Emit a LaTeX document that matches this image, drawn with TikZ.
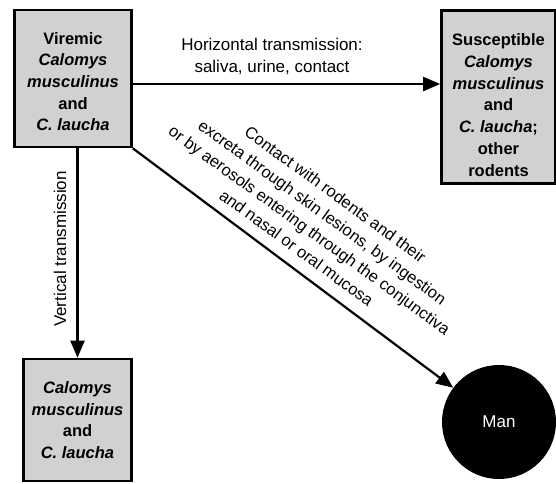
\documentclass[tikz,border=0pt]{standalone}
\usepackage{fontspec}
\setmainfont{Liberation Sans}
\usepackage{tikz}
\usetikzlibrary{arrows.meta}
\newcommand\sps[1]{\textit{#1}}

\begin{document}
\begin{tikzpicture}[x=1pt,y=-1pt,
    box/.style={draw,line width=2.6pt,fill=black!18,align=center,inner sep=0pt,
      font=\fontsize{16.5}{21.7}\selectfont\bfseries},
    lbl/.style={align=center,font=\fontsize{17}{22}\selectfont},
    arr/.style={line width=2.2pt,-{Triangle[length=17pt,width=14pt]}}]
        \useasboundingbox (0,0) rectangle (556,483);

        \coordinate (hl) at (0,84);

        \node[box,minimum width=117,minimum height=137] (Vir) at (73,78.5)
          {\rule{0pt}{18pt}Viremic\\ \sps{Calomys}\\ \sps{musculinus}\\ and\\ \sps{C. laucha}};
        \node[box,minimum width=114,minimum height=173] (Sus) at (498.5,97)
          {\rule{0pt}{28pt}Susceptible\\ \sps{Calomys}\\ \sps{musculinus}\\ and\\ \sps{C. laucha};\\ other\\ rodents};
        \node[box,minimum width=108,minimum height=122] (Off) at (77.5,420)
          {\sps{Calomys}\\ \sps{musculinus}\\ and\\ \sps{C. laucha}};
        \node[circle,fill=black,text=white,minimum size=114,inner sep=0pt,
          font=\fontsize{17}{20}\selectfont] (Man) at (499,422) {Man};

        \draw[arr] (Vir.east |- hl) -- (Sus.west |- hl);
        \draw[arr] (Vir.south -| Off.north) -- (Off.north);
        \draw[arr] (Vir.south east) -- (Man);

        \node[lbl] (Hor) at (272,56) {Horizontal transmission:\\ saliva, urine, contact};
        \node[lbl,rotate=90] (Ver) at (60,249) {Vertical transmission};
        \node[lbl,rotate=-36,font=\fontsize{16.5}{22}\selectfont] (Con) at (316,221)
          {Contact with rodents and their\\ excreta through skin lesions, by ingestion\\
           or by aerosols entering through the conjunctiva\\ and nasal or oral mucosa};
\end{tikzpicture}
\end{document}
